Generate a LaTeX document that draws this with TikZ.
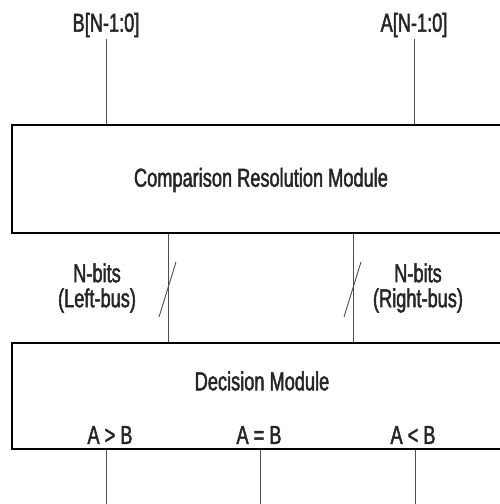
\documentclass[tikz,border=0pt]{standalone}
\usepackage{fontspec}
\setmainfont[FakeStretch=0.7, FakeBold=1.8]{Liberation Sans}
\usetikzlibrary{positioning}

\tikzset{
  module/.style={draw=black, line width=2.4pt, minimum width=492pt, inner sep=0pt},
  wire/.style={draw=black!70, line width=0.9pt},
  lbl/.style={font=\fontsize{26}{25}\selectfont, text=black!85, inner sep=2pt},
}

\begin{document}
\begin{tikzpicture}[x=1pt,y=1pt]
			\useasboundingbox (0,0) rectangle (500,504);
			\clip (0,0) rectangle (500,504);
			% modules
			\node[module, minimum height=108pt] (crm) at (258,325) {};
			\node[lbl] (crmtxt) at (261,324) {Comparison Resolution Module};
			\node[module, minimum height=106pt] (dm) at (258,108) {};
			\node[lbl] (dmtxt) at (262,123) {Decision Module};
			% inputs
			\node[lbl] (inB) at (106,479) {B[N-1:0]};
			\node[lbl] (inA) at (414,479) {A[N-1:0]};
			\draw[wire] (inB.south) -- (inB.south |- crm.north);
			\draw[wire] (inA.south) -- (inA.south |- crm.north);
			% buses
			\coordinate (lbus) at (168,0);
			\coordinate (rbus) at (353,0);
			\draw[wire] (lbus |- crm.south) -- (lbus |- dm.north);
			\draw[wire] (rbus |- crm.south) -- (rbus |- dm.north);
			\draw[wire] (159,187) -- (176,242);
			\draw[wire] (344,187) -- (361,242);
			\node[lbl, align=center] (lbl1) at (97,216) {N-bits\\(Left-bus)};
			\node[lbl, align=center] (lbl2) at (418,216) {N-bits\\(Right-bus)};
			% outputs
			\node[lbl] (gt) at (110,69) {A > B};
			\node[lbl] (eq) at (259,69) {A = B};
			\node[lbl] (lt) at (413,69) {A < B};
			\coordinate (o1) at (106,0);
			\coordinate (o2) at (260,0);
			\coordinate (o3) at (415,0);
			\draw[wire] (o1 |- dm.south) -- (o1);
			\draw[wire] (o2 |- dm.south) -- (o2);
			\draw[wire] (o3 |- dm.south) -- (o3);
		\end{tikzpicture}
\end{document}
